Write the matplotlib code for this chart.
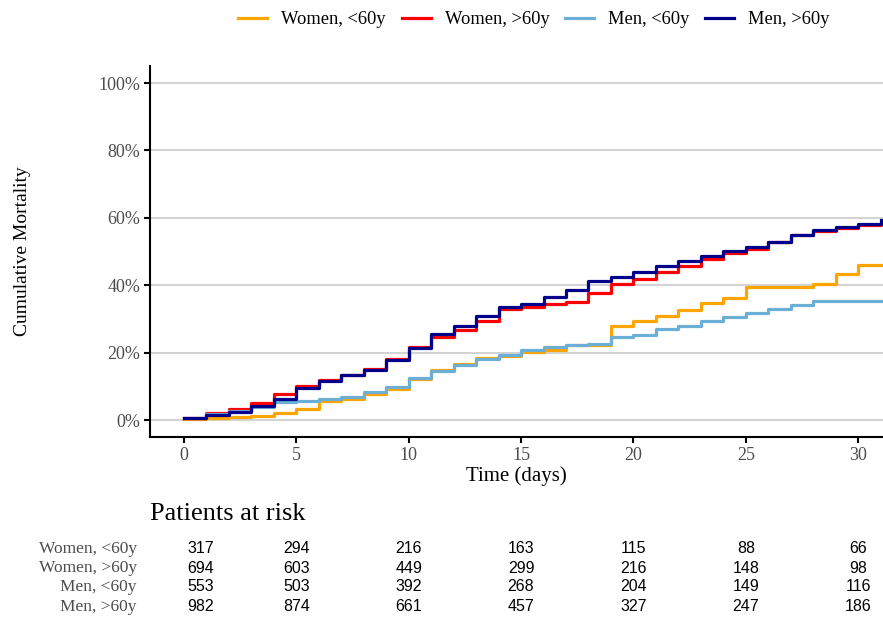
import matplotlib
matplotlib.use("Agg")
import matplotlib.pyplot as plt
from matplotlib.transforms import blended_transform_factory

# cumulative mortality (%) on [day, day+1)
days = list(range(0, 32))
women_lt60 = [0.3, 0.5, 0.8, 1.3, 2.0, 3.4, 5.6, 6.4, 7.7, 9.2, 12.2, 14.8, 16.6, 18.3, 19.1, 20.1,
              20.9, 22.4, 22.4, 28.0, 29.3, 30.8, 32.7, 34.7, 36.1, 39.4, 39.4, 39.4, 40.4, 43.3, 46.0, 46.0]
women_gt60 = [0.5, 2.1, 3.3, 5.0, 7.7, 10.2, 11.9, 13.5, 15.1, 18.2, 21.7, 24.8, 26.8, 29.5, 32.9, 33.7,
              34.4, 35.1, 37.7, 40.4, 41.8, 44.0, 45.8, 47.8, 49.5, 50.7, 52.9, 55.0, 56.2, 56.9, 57.9, 58.2]
men_lt60 = [0.5, 1.9, 2.8, 3.8, 5.4, 5.7, 6.2, 7.0, 8.4, 9.7, 12.5, 14.6, 16.4, 18.1, 19.3, 20.8,
            21.6, 22.4, 22.6, 24.8, 25.2, 27.0, 28.0, 29.5, 30.6, 31.8, 32.9, 34.3, 35.4, 35.4, 35.4, 35.4]
men_gt60 = [0.5, 1.5, 2.5, 4.2, 6.4, 9.5, 11.7, 13.4, 14.9, 17.9, 21.5, 25.5, 28.0, 30.8, 33.7, 34.4,
            36.4, 38.7, 41.2, 42.6, 43.8, 45.8, 47.1, 48.8, 50.1, 51.4, 52.9, 55.0, 56.4, 57.2, 58.2, 59.5]

group_names = ["Women, <60y", "Women, >60y", "Men, <60y", "Men, >60y"]
group_colors = ["#FFA500", "#FF0000", "#6BAED6", "#00008B"]

# patients at risk
risk_times = [0, 5, 10, 15, 20, 25, 30]
risk_women_lt60 = [317, 294, 216, 163, 115, 88, 66]
risk_women_gt60 = [694, 603, 449, 299, 216, 148, 98]
risk_men_lt60 = [553, 503, 392, 268, 204, 149, 116]
risk_men_gt60 = [982, 874, 661, 457, 327, 247, 186]

serif = "Liberation Serif"
sans = "Liberation Sans"
grey = "#4D4D4D"

fig = plt.figure(figsize=(8.83, 6.18), dpi=100)
ax = fig.add_axes([0.170, 0.2929, 0.830, 0.600])

series = [women_lt60, women_gt60, men_lt60, men_gt60]
for vals, name, col in zip(series, group_names, group_colors):
    ax.step(days, [v / 100 for v in vals], where="post", color=col, lw=2.3, label=name)

ax.set_xlim(-1.5, 31.1)
ax.set_ylim(-0.05, 1.05)
ax.set_xticks([0, 5, 10, 15, 20, 25, 30])
ax.set_yticks([0, 0.2, 0.4, 0.6, 0.8, 1.0])
ax.set_yticklabels(["0%", "20%", "40%", "60%", "80%", "100%"])
ax.grid(axis="y", color="#D3D3D3", lw=1.5)
ax.set_axisbelow(True)
for s in ["top", "right"]:
    ax.spines[s].set_visible(False)
for s in ["left", "bottom"]:
    ax.spines[s].set_linewidth(1.5)
ax.tick_params(length=4, width=1.5, pad=3, labelsize=13, labelcolor=grey)
for lab in ax.get_xticklabels() + ax.get_yticklabels():
    lab.set_fontfamily(serif)

ax.set_xlabel("Time (days)", fontsize=15, family=serif, labelpad=2)
ax.set_ylabel("Cumulative Mortality", fontsize=14, family=serif)
ax.yaxis.set_label_coords(-0.163, 0.5)

fig.legend(loc="center", bbox_to_anchor=(0.605, 0.968), ncol=4, frameon=False,
           prop={"family": serif, "size": 13.3}, handlelength=1.57, handletextpad=0.76,
           columnspacing=0.85)

# risk table
fig.text(0.170, 0.168, "Patients at risk", fontsize=19, family=serif, va="center", ha="left")
tr = blended_transform_factory(ax.transData, fig.transFigure)
risk_rows = [risk_women_lt60, risk_women_gt60, risk_men_lt60, risk_men_gt60]
row_y = [0.1117, 0.0809, 0.0502, 0.0178]
col_x = [t + (0.75 if t == 0 else 0) for t in risk_times]
for name, row, y in zip(group_names, risk_rows, row_y):
    fig.text(0.155, y, name, fontsize=12.5, family=serif, color=grey, ha="right", va="center")
    for x, n in zip(col_x, row):
        ax.text(x, y, str(n), transform=tr, fontsize=11.5, family=sans, ha="center", va="center",
                clip_on=False)

fig.savefig("out.png", dpi=100)
